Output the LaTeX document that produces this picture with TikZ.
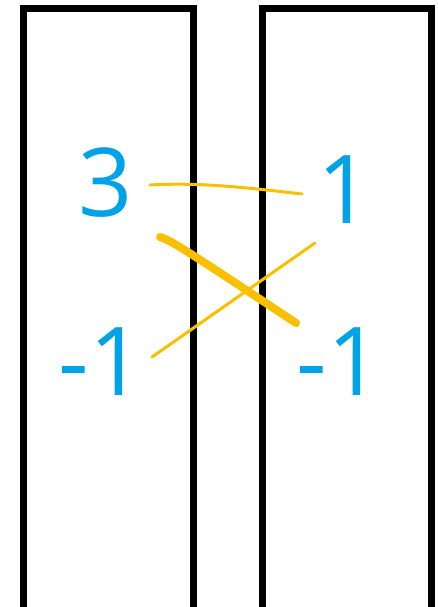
\documentclass[tikz,border=0pt]{standalone}
\usepackage{fontspec}
\setsansfont{Open Sans}
\usetikzlibrary{positioning}

\definecolor{inkblue}{RGB}{0,163,232}
\definecolor{inkyellow}{RGB}{249,192,0}

\begin{document}
\begin{tikzpicture}[x=1pt, y=-1pt,
    box/.style={draw=black, line width=7pt},
    num/.style={text=inkblue, inner sep=0pt, font=\sffamily\fontsize{95}{95}\selectfont},
    link/.style={draw=inkyellow, line width=3pt, line cap=round},
    boldlink/.style={link, line width=8pt}]
  \useasboundingbox (0,0) rectangle (438,607);
  % the two columns
  \draw[box] (23,8.5) rectangle (193,610);
  \draw[box] (262.5,8.5) rectangle (431,610);
  % values
  \node[num] (three) at (106,183) {3};
  \node[num] (negL) at (101,362) {-1};
  \node[num] (oneR) at (345,190) {1};
  \node[num] (negR) at (339,362) {-1};
  % ends of the strokes
  \coordinate (threeA) at (150,185);
  \coordinate (threeB) at (160,237);
  \coordinate (negLA) at (152,357);
  \coordinate (oneRA) at (302,194);
  \coordinate (oneRB) at (315,243);
  \coordinate (negRA) at (296,323);
  \draw[link] (threeA) .. controls (200,182) and (250,188) .. (oneRA);
  \draw[boldlink] (threeB) .. controls (170,240) and (180,246) .. (negRA);
  \draw[link] (negLA) -- (oneRB);
\end{tikzpicture}
\end{document}
